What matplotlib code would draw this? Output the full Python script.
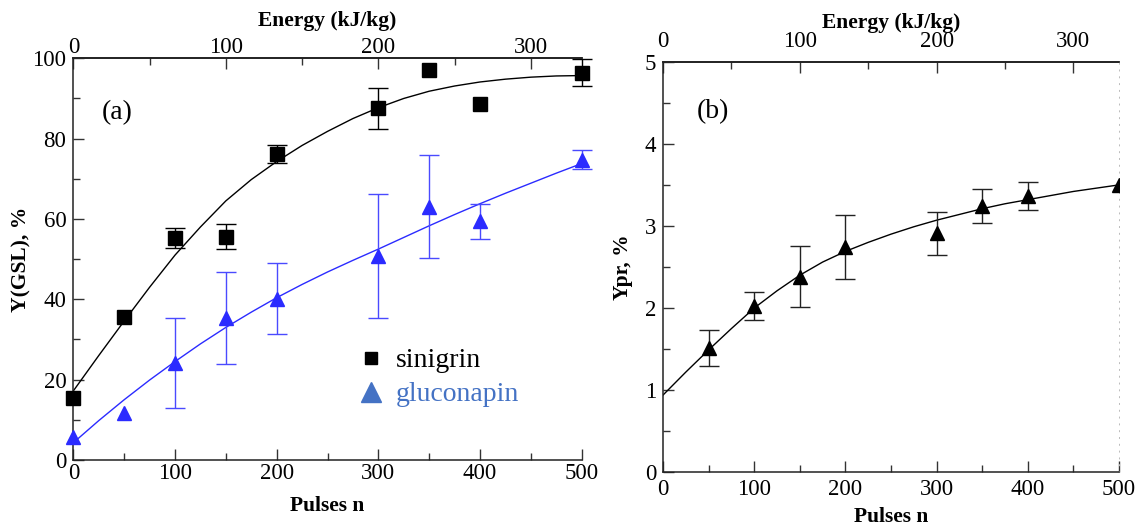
import matplotlib
matplotlib.use('Agg')
import matplotlib.pyplot as plt
from matplotlib.lines import Line2D
from matplotlib.ticker import MultipleLocator, FixedLocator

plt.rcParams['font.family'] = ['Liberation Serif', 'DejaVu Serif']

# energy per pulse (kJ/kg) for the top axis
kj_per_pulse = 2.0 / 3.0
energy_ticks = [0, 100, 200, 300]
energy_minor = [50, 150, 250]

# panel (a): measured yields
pulses_a = [0, 50, 100, 150, 200, 300, 350, 400, 500]
sinigrin = [15.5, 35.7, 55.2, 55.6, 76.2, 87.5, 97.0, 88.6, 96.4]
sinigrin_err = [0, 0, 2.5, 3.2, 2.2, 5.0, 0, 0, 3.4]
gluconapin = [5.8, 11.8, 24.2, 35.4, 40.2, 50.8, 63.1, 59.4, 74.8]
gluconapin_err = [0, 0, 11.2, 11.4, 8.9, 15.4, 12.8, 4.3, 2.4]

# panel (a): fitted curves
fit_pulses = [0, 25, 50, 75, 100, 125, 150, 175, 200, 225, 250,
              275, 300, 325, 350, 375, 400, 425, 450, 475, 500]
sinigrin_fit = [17.2, 26.0, 34.6, 43.0, 51.0, 58.0, 64.5, 69.8, 74.3, 78.3, 81.8,
                85.0, 87.7, 90.0, 91.8, 93.1, 94.1, 94.8, 95.3, 95.6, 95.7]
gluconapin_fit = [4.3, 9.8, 15.0, 19.9, 24.5, 28.9, 33.0, 36.8, 40.4, 43.7, 46.8,
                  49.7, 52.5, 55.4, 58.3, 61.1, 63.8, 66.4, 68.9, 71.4, 73.8]

# panel (b): protein yield
pulses_b = [50, 100, 150, 200, 300, 350, 400, 500]
ypr = [1.51, 2.02, 2.38, 2.74, 2.91, 3.24, 3.36, 3.50]
ypr_err = [0.22, 0.17, 0.37, 0.39, 0.26, 0.21, 0.17, 0]
ypr_fit = [0.94, 1.22, 1.49, 1.75, 2.00, 2.21, 2.40, 2.56, 2.69, 2.80, 2.90,
           2.99, 3.07, 3.14, 3.21, 3.27, 3.32, 3.37, 3.42, 3.46, 3.50]

blue = '#2b2bff'
legend_blue = '#4472c4'
TICK_FS = 16.5
LABEL_FS = 15.5


def with_err(xs, ys, errs):
    # only points that actually have an error bar
    keep = [i for i, e in enumerate(errs) if e > 0]
    return [xs[i] for i in keep], [ys[i] for i in keep], [errs[i] for i in keep]


def style_axes(ax, ymax, ymajor, yminor, xpad, ypad, toppad, top_labelpad, xlabelpad):
    ax.set_xlim(0, 500)
    ax.set_ylim(0, ymax)
    ax.xaxis.set_major_locator(MultipleLocator(100))
    ax.xaxis.set_minor_locator(MultipleLocator(50))
    ax.yaxis.set_major_locator(MultipleLocator(ymajor))
    ax.yaxis.set_minor_locator(MultipleLocator(yminor))
    ax.tick_params(which='both', direction='in', top=False, right=False,
                   color='#333333', labelsize=TICK_FS)
    ax.tick_params(axis='x', which='both', pad=xpad)
    ax.tick_params(axis='y', which='both', pad=ypad)
    ax.tick_params(which='major', length=8, width=1)
    ax.tick_params(which='minor', length=5, width=1)
    for sp in ax.spines.values():
        sp.set_linewidth(1.1)
        sp.set_color('#222222')
    ax.set_xlabel('Pulses n', fontsize=LABEL_FS, fontweight='bold', labelpad=xlabelpad)

    top = ax.secondary_xaxis('top', functions=(lambda n: n * kj_per_pulse,
                                               lambda e: e / kj_per_pulse))
    top.xaxis.set_major_locator(FixedLocator(energy_ticks))
    top.xaxis.set_minor_locator(FixedLocator(energy_minor))
    top.tick_params(which='both', direction='in', color='#333333',
                    labelsize=TICK_FS, pad=toppad)
    top.tick_params(which='major', length=8, width=1)
    top.tick_params(which='minor', length=5, width=1)
    top.spines['top'].set_linewidth(1.1)
    top.set_xlabel('Energy (kJ/kg)', fontsize=LABEL_FS, fontweight='bold',
                   labelpad=top_labelpad)
    return top


fig = plt.figure(figsize=(11.37, 5.26), dpi=100)

# ---- panel (a)
ax1 = fig.add_axes([0.0645, 0.1255, 0.4471, 0.7637])
style_axes(ax1, 100, 20, 10, xpad=2, ypad=5, toppad=0, top_labelpad=8, xlabelpad=9)
ax1.spines['right'].set_visible(False)

ax1.plot(fit_pulses, sinigrin_fit, color='black', lw=1.0)
ax1.plot(fit_pulses, gluconapin_fit, color=blue, lw=1.0)
ex, ey, ee = with_err(pulses_a, sinigrin, sinigrin_err)
ax1.errorbar(ex, ey, yerr=ee, fmt='none', ecolor='black',
             elinewidth=1.0, capsize=7, capthick=1.0, clip_on=False)
ex, ey, ee = with_err(pulses_a, gluconapin, gluconapin_err)
ax1.errorbar(ex, ey, yerr=ee, fmt='none', ecolor='#4a4aff',
             elinewidth=1.0, capsize=7, capthick=1.0, clip_on=False)
ax1.plot(pulses_a, sinigrin, 's', color='black', markersize=9.5, clip_on=False, zorder=5)
ax1.plot(pulses_a, gluconapin, '^', color=blue, markersize=10, clip_on=False, zorder=5)

ax1.text(28, 86.5, '(a)', fontsize=20, va='center', ha='left')
ax1.set_ylabel('Y(GSL), %', fontsize=LABEL_FS, fontweight='bold', labelpad=1)

handles = [Line2D([], [], marker='s', ls='none', color='black', markersize=9),
           Line2D([], [], marker='^', ls='none', color=legend_blue, markersize=15)]
leg = ax1.legend(handles, ['sinigrin', 'gluconapin'], loc='center left',
                 bbox_to_anchor=(0.558, 0.205), frameon=False, fontsize=20,
                 handlelength=1.0, handletextpad=0.4, labelspacing=0.3,
                 borderpad=0, borderaxespad=0)
leg.get_texts()[1].set_color(legend_blue)

# ---- panel (b)
ax2 = fig.add_axes([0.5831, 0.1021, 0.4011, 0.7806])
style_axes(ax2, 5, 1, 0.5, xpad=5, ypad=5, toppad=7, top_labelpad=2, xlabelpad=5)
ax2.spines['right'].set_linestyle((0, (1, 6)))
ax2.spines['right'].set_color('#bbbbbb')
ax2.spines['right'].set_linewidth(0.7)

ax2.plot(fit_pulses, ypr_fit, color='black', lw=1.0)
ex, ey, ee = with_err(pulses_b, ypr, ypr_err)
ax2.errorbar(ex, ey, yerr=ee, fmt='none', ecolor='#222222',
             elinewidth=1.0, capsize=7, capthick=1.0)
ax2.plot(pulses_b, ypr, '^', color='black', markersize=10, zorder=5)

ax2.text(37, 4.39, '(b)', fontsize=20, va='center', ha='left')
ax2.set_ylabel('Ypr, %', fontsize=LABEL_FS, fontweight='bold', labelpad=8)

fig.savefig('out.png', dpi=100)
